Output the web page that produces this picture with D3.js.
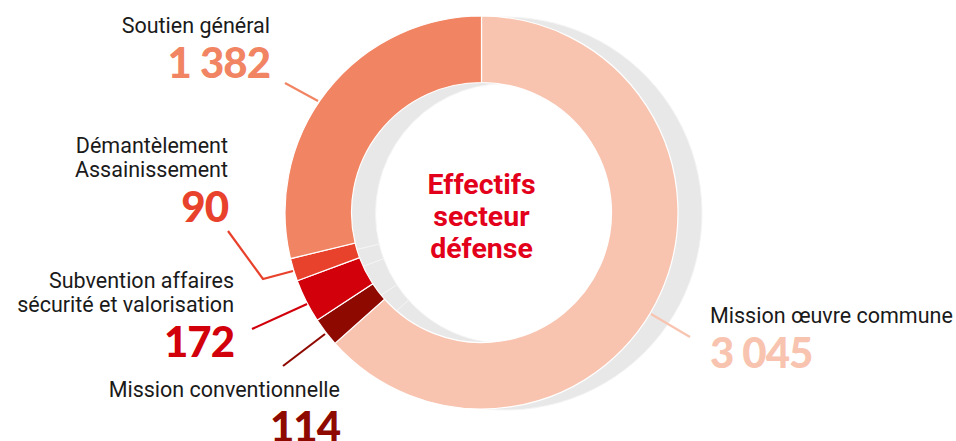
<!DOCTYPE html>
<html>
<head>
<meta charset="utf-8">
<title>Effectifs secteur défense</title>
<script src="https://d3js.org/d3.v7.min.js"></script>
<style>
  body { margin:0; background:#fff; }
  svg { display:block; }
</style>
</head>
<body>
<script>
// data, clockwise from 12 o'clock
var categories = ["Mission œuvre commune", "Mission conventionnelle", "Subvention affaires sécurité et valorisation", "Démantèlement Assainissement", "Soutien général"];
var values = [3045, 114, 172, 90, 1382];
var valueLabels = ["3 045", "114", "172", "90", "1 382"];
var colors = ["#f8c4b0", "#8e0900", "#d2000b", "#e8412c", "#f18563"];

// label layout (text lines, anchor, position, leader polyline) per slice
var labelLines = [
  ["Mission œuvre commune"],
  ["Mission conventionnelle"],
  ["Subvention affaires", "sécurité et valorisation"],
  ["Démantèlement", "Assainissement"],
  ["Soutien général"]
];
var labelPos = [
  {x: 710, y: 323, anchor: "start"},
  {x: 340, y: 397, anchor: "end"},
  {x: 234, y: 288, anchor: "end"},
  {x: 228, y: 153, anchor: "end"},
  {x: 270, y: 33, anchor: "end"}
];
var leaders = [
  [[690, 337], [651, 314]],
  [[283, 366], [325, 334]],
  [[252, 329], [307, 304]],
  [[228, 231], [263, 279], [293, 271]],
  [[285, 83], [318, 101]]
];

var width = 956, height = 441;
var cx = 481.5, cy = 212.5, rOuter = 196.5, rInner = 130;

var svg = d3.select("body").append("svg")
    .attr("width", width)
    .attr("height", height);

var pie = d3.pie().sort(null).value(function(d){ return d; });
var arcs = pie(values);
var arc = d3.arc().innerRadius(rInner).outerRadius(rOuter);

// grey shadow ring, shifted right
svg.append("g")
    .attr("transform", "translate(" + (cx + 24) + "," + (cy + 1) + ")")
  .selectAll("path")
  .data(arcs)
  .enter().append("path")
    .attr("d", arc)
    .attr("fill", "#e8e8e8")
    .attr("stroke", "#f4f4f4")
    .attr("stroke-width", 1);

// coloured ring
svg.append("g")
    .attr("transform", "translate(" + cx + "," + cy + ")")
  .selectAll("path")
  .data(arcs)
  .enter().append("path")
    .attr("d", arc)
    .attr("fill", function(d, i){ return colors[i]; })
    .attr("stroke", "#fff")
    .attr("stroke-width", 1.2);

// leader lines
var line = d3.line();
svg.selectAll("path.leader")
  .data(leaders)
  .enter().append("path")
    .attr("class", "leader")
    .attr("d", line)
    .attr("fill", "none")
    .attr("stroke", function(d, i){ return colors[i]; })
    .attr("stroke-width", 2.2);

// labels
var lab = svg.selectAll("g.lab")
  .data(categories)
  .enter().append("g")
    .attr("class", "lab");

lab.each(function(d, i){
  var g = d3.select(this), p = labelPos[i];
  labelLines[i].forEach(function(t, j){
    g.append("text")
      .attr("x", p.x)
      .attr("y", p.y + j * 24)
      .attr("text-anchor", p.anchor)
      .attr("font-family", "Roboto, 'Liberation Sans', sans-serif")
      .attr("font-size", "21.5px")
      .attr("fill", "#1a1a1a")
      .text(t);
  });
  g.append("text")
    .attr("x", p.x)
    .attr("y", p.y + (labelLines[i].length - 1) * 24 + 45)
    .attr("text-anchor", p.anchor)
    .attr("font-family", "Lato, 'Open Sans', sans-serif")
    .attr("font-weight", "900")
    .attr("font-size", "42px")
    .attr("letter-spacing", "-1px")
    .attr("fill", colors[i])
    .text(valueLabels[i]);
});

// centre title
var title = ["Effectifs", "secteur", "défense"];
svg.selectAll("text.title")
  .data(title)
  .enter().append("text")
    .attr("class", "title")
    .attr("x", cx)
    .attr("y", function(d, i){ return 194 + i * 32; })
    .attr("text-anchor", "middle")
    .attr("font-family", "Roboto, sans-serif")
    .attr("font-weight", "700")
    .attr("font-size", "28.5px")
    .attr("fill", "#e3001b")
    .text(function(d){ return d; });
</script>
</body>
</html>
